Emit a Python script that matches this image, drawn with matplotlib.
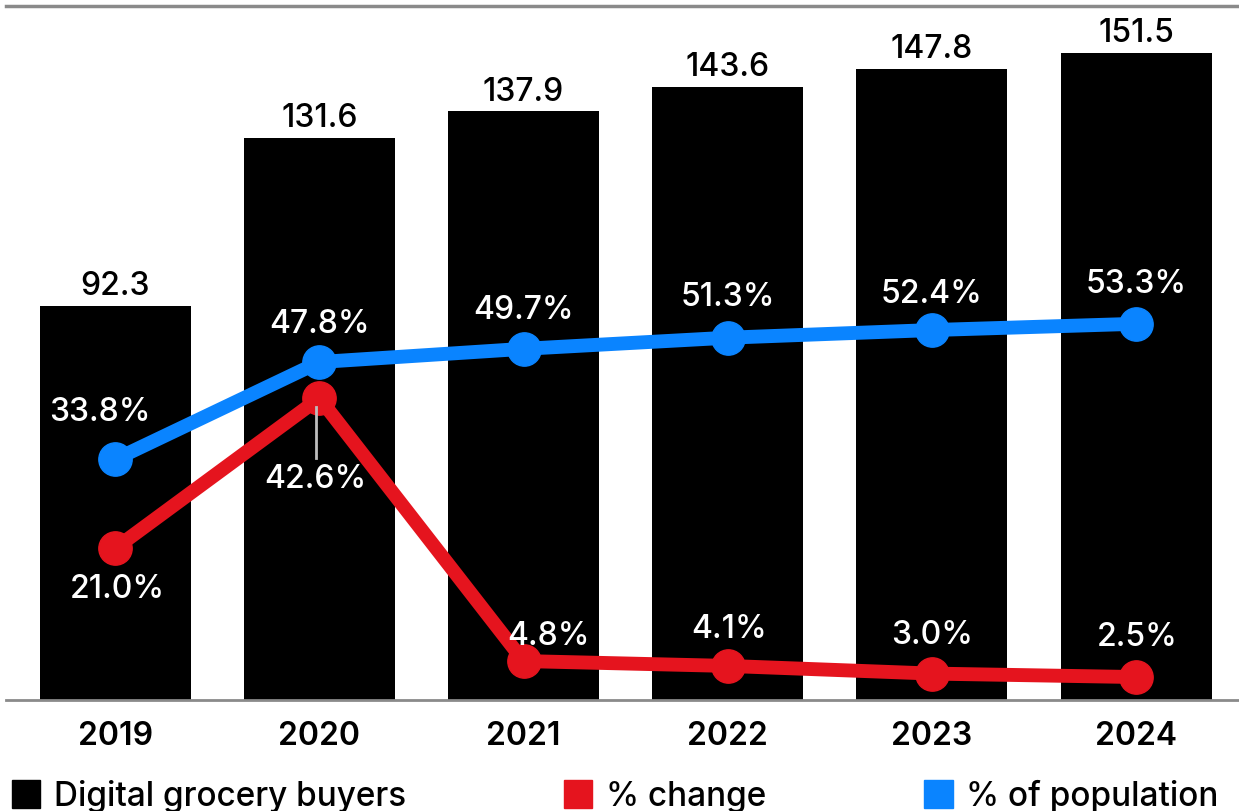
import matplotlib.pyplot as plt
from matplotlib.patches import Patch

plt.rcParams['font.family'] = ['Inter', 'DejaVu Sans']

# %% Data
years = ['2019', '2020', '2021', '2022', '2023', '2024']
buyers = [92.3, 131.6, 137.9, 143.6, 147.8, 151.5]          # millions
pct_change = [21.0, 42.6, 4.8, 4.1, 3.0, 2.5]                # % change
pct_population = [33.8, 47.8, 49.7, 51.3, 52.4, 53.3]        # % of population

RED = '#e5141e'
BLUE = '#0a84ff'
FS = 23

# %% Plotting
fig = plt.figure(figsize=(12.39, 8.11), dpi=100)
ax = fig.add_axes([6 / 1239, 1 - 700 / 811, 1 - 6 / 1239, 694 / 811])
x = list(range(len(years)))

ax.bar(x, buyers, width=0.74, color='black', zorder=1)
ax.set_xlim(-0.535, 5.504)
ax.set_ylim(0, 162.5)
for xi, v in zip(x, buyers):
    ax.annotate(f'{v:.1f}', (xi, v), xytext=(0, 19), textcoords='offset pixels',
                ha='center', va='center', fontsize=FS, fontweight='medium')

ax.set_xticks(x)
ax.set_xticklabels(years, fontsize=FS, fontweight='semibold')
ax.tick_params(axis='x', length=0, pad=15)
ax.set_yticks([])
for s in ['left', 'right']:
    ax.spines[s].set_visible(False)
ax.spines['bottom'].set_color('#8a8a8a')
ax.spines['bottom'].set_linewidth(2)
ax.spines['top'].set_color('#8a8a8a')
ax.spines['top'].set_linewidth(2.5)

# secondary axis for percentages
ax2 = ax.twinx()
ax2.set_ylim(-0.8, 99)
ax2.axis('off')
ax2.plot(x, pct_population, color=BLUE, lw=10, marker='o', ms=24, zorder=3,
         solid_joinstyle='round')
ax2.plot(x, pct_change, color=RED, lw=10, marker='o', ms=24, zorder=2,
         solid_joinstyle='round')

pop_off = [(-15, 47), (0, 38), (0, 38), (0, 40), (0, 36), (0, 39)]
for xi, v, (dx, dy) in zip(x, pct_population, pop_off):
    ax2.annotate(f'{v:.1f}%', (xi, v), xytext=(dx, dy), textcoords='offset pixels',
                 ha='center', va='center', color='white', fontsize=FS,
                 fontweight='medium', zorder=5)

chg_off = [(2, -41), (-4, -81), (25, 25), (1, 36), (0, 38), (1, 40)]
for xi, v, (dx, dy) in zip(x, pct_change, chg_off):
    ax2.annotate(f'{v:.1f}%', (xi, v), xytext=(dx, dy), textcoords='offset pixels',
                 ha='center', va='center', color='white', fontsize=FS,
                 fontweight='medium', zorder=5)
# leader line for the 2020 % change label
ax2.plot([0.984, 0.984], [41.3, 34.0], color='#bdbdbd', lw=2, zorder=4)

# %% Legend
handles = [Patch(color='black'), Patch(color=RED), Patch(color=BLUE)]
labels = ['Digital grocery buyers', '% change', '% of population']
fig.legend(handles, labels, loc='center left', bbox_to_anchor=(12 / 1239, 1 - 796 / 811),
           ncol=3, frameon=False, prop={'size': 24, 'weight': 'medium'},
           handlelength=0.85, handleheight=0.95,
           handletextpad=0.4, columnspacing=4.75, borderaxespad=0, borderpad=0)

plt.savefig('out.png', dpi=100)
